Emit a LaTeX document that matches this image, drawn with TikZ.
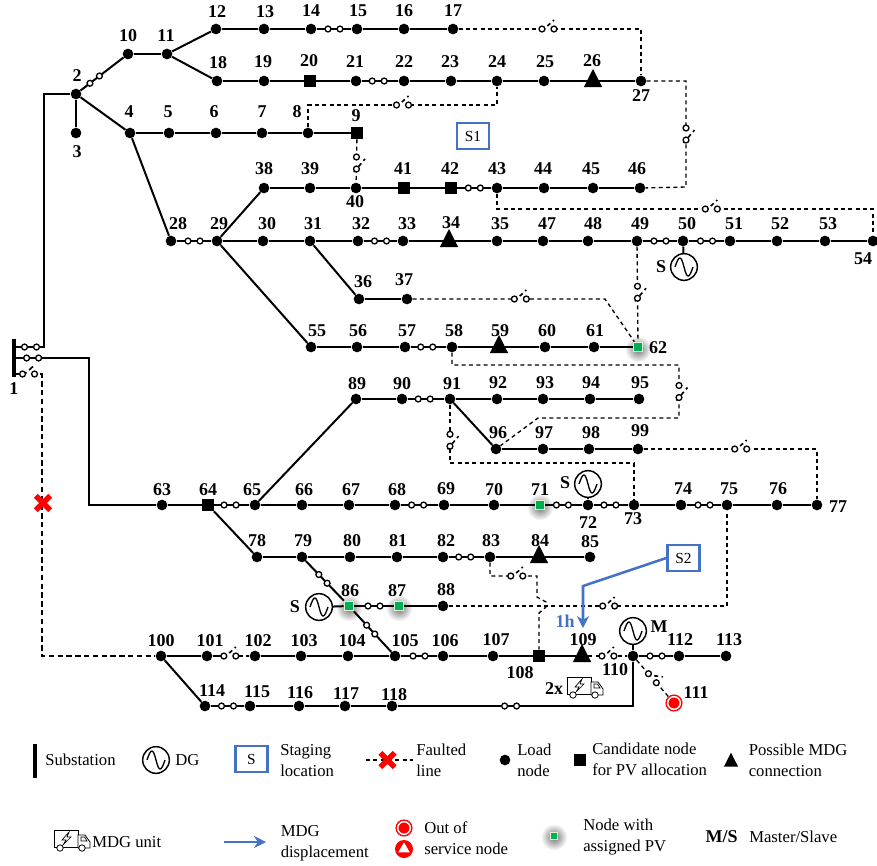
\documentclass[tikz,border=0pt]{standalone}
\usepackage{fontspec}
\setmainfont{Liberation Serif}
\usetikzlibrary{arrows.meta, calc, positioning, shapes.geometric, shapes.misc}
\definecolor{pvgreen}{HTML}{00B050}
\definecolor{pvrim}{HTML}{E2EFD9}
\definecolor{stageblue}{HTML}{4472C4}

\begin{document}
\begin{tikzpicture}[
        x=0.75pt, y=-0.75pt,
        bus/.style={circle, fill=black, minimum size=8pt, inner sep=0pt},
        cand/.style={rectangle, fill=black, minimum size=9pt, inner sep=0pt},
        mdg/.style={regular polygon, regular polygon sides=3, fill=black, minimum size=18pt,
                    inner sep=0pt, transform shape, xscale=0.88},
        pv/.style={rectangle, fill=pvgreen, draw=pvrim, line width=1pt, minimum size=7pt, inner sep=0pt},
        glow/.style={circle, inner color=black!55, outer color=white, minimum size=20pt, inner sep=0pt},
        outnode/.style={circle, fill=red, draw=red, double=white, double distance=1.1pt,
                        line width=1.1pt, minimum size=9.5pt, inner sep=0pt},
        num/.style={font=\bfseries\fontsize{13.5}{14}\selectfont, inner sep=0pt},
        txt/.style={font=\fontsize{12.5}{15.75}\selectfont, anchor=west, align=left, inner sep=0pt},
        stage/.style={rectangle, draw=stageblue, line width=1.8pt, fill=white, minimum width=24pt,
                      minimum height=19.5pt, inner sep=0pt, font=\fontsize{11.5}{14}\selectfont},
        gen/.style={circle, draw, line width=1.1pt, minimum size=20pt, inner sep=0pt,
                    path picture={\draw[line width=1pt, shift={(path picture bounding box.center)}]
                        (-9,0) .. controls (-5,-12) and (-3,-12) .. (0,0)
                        .. controls (3,12) and (5,12) .. (9,0);}},
        fault/.style={cross out, draw=red, line width=4.2pt, minimum size=6.5pt, inner sep=0pt},
        line/.style={line width=1.5pt},
        dashline/.style={line width=1pt, dash pattern=on 3pt off 2.5pt},
        faultline/.style={line width=1pt, dash pattern=on 4pt off 2.6pt},
        arrow/.style={-{Stealth[length=9pt, width=9pt]}, line width=1.9pt, stageblue},
        swline/.style={line width=1pt, solid, fill=white},
        closedsw/.pic={
            \draw[swline] (-6,0) circle (2.2pt);
            \draw[swline] (6,0) circle (2.2pt);},
        opensw/.pic={
            \fill[white] (-6,-1.5) rectangle (6,1.5);
            \draw[line width=1.2pt] (-6,2) -- (6,-9);
            \draw[swline] (-6,0) circle (2.2pt);
            \draw[swline] (6,0) circle (2.2pt);},
        vopensw/.pic={
            \fill[white] (-1.5,-6) rectangle (1.5,6);
            \draw[line width=1.2pt] (-2.5,9) -- (8.5,-4);
            \draw[swline] (0,-6) circle (2.2pt);
            \draw[swline] (0,6) circle (2.2pt);},
        truck/.pic={
            \draw[line width=0.6pt, fill=white] (0,0) rectangle (24,17);
            \draw[line width=0.6pt, fill=white] (24,5) -- (31,5) -- (36,12) -- (36,18) -- (24,18) -- cycle;
            \draw[line width=0.5pt] (27,7) -- (30.5,7) -- (33,11) -- (27,11) -- cycle;
            \draw[line width=0.5pt] (15,2) -- (8,10) -- (12,10) -- (9,15) -- (17,7) -- (13,7) -- cycle;
            \draw[line width=0.6pt, fill=white] (6,18) circle (2.4pt);
            \draw[line width=0.6pt, fill=white] (28,18) circle (2.4pt);},
    ]
    \useasboundingbox (0,0) rectangle (877,865);

    % ====== PV glow, under everything ======
    \foreach \n/\x/\y in {62/638/349, 71/540/507, 86/349/608, 87/399/608}
        \node[glow] (g\n) at (\x,\y) {};

    % ====== load nodes ======
    \foreach \n/\x/\y in {
        2/76/94, 3/76/133, 4/130/133, 5/169/133, 6/216/133, 7/262/133, 8/308/133,
        10/128/54, 11/167/54, 12/216/29, 13/264/29, 14/311/29, 15/357/29, 16/404/29, 17/453/29,
        18/217/81, 19/264/81, 21/356/81, 22/404/81, 23/451/81, 24/497/81, 25/544/81, 27/641/81,
        28/171/241, 29/217/241, 30/263/241, 31/310/241, 32/358/241, 33/403/241, 35/497/241,
        36/359/299, 37/407/299, 38/264/188, 39/310/188, 40/356/188, 43/497/188, 44/544/188,
        45/593/188, 46/640/188, 47/543/241, 48/588/241, 49/637/241, 50/683/241, 51/730/241,
        52/777/241, 53/825/241, 54/873/241, 55/311/347, 56/357/347, 57/405/347, 58/452/347,
        60/545/347, 61/594/347, 63/162/505, 65/255/505, 66/302/505, 67/349/505, 68/395/505,
        69/444/505, 70/494/505, 72/588/505, 73/634/505, 74/681/505, 75/727/505, 76/777/505,
        77/817/505, 78/257/557, 79/302/557, 80/350/557, 81/397/557, 82/443/557, 83/490/557,
        85/590/557, 88/443/606, 89/356/399, 90/402/399, 91/450/399, 92/497/399, 93/543/399,
        94/590/399, 95/639/399, 96/496/449, 97/543/449, 98/589/449, 99/638/449, 100/161/656,
        101/207/656, 102/255/656, 103/301/656, 104/348/656, 105/395/656, 106/443/656,
        107/493/656, 110/633/656, 112/679/656, 113/726/656, 114/205/706, 115/250/706,
        116/299/706, 117/345/706, 118/392/706}
        \node[bus] (n\n) at (\x,\y) {};

    % ====== candidate, MDG and PV nodes ======
    \foreach \n/\x/\y in {9/357/133, 20/310/81, 41/404/188, 42/451/188, 64/208/505, 108/539/656}
        \node[cand] (n\n) at (\x,\y) {};
    \foreach \n/\x/\y in {26/593/81, 34/449/241, 59/499/347, 84/539/557, 109/582/656}
        \node[mdg] (n\n) at (\x,\y) {};
    \foreach \n/\x/\y in {62/638/347, 71/540/505, 86/349/606, 87/399/606}
        \node[pv] (n\n) at (\x,\y) {};
    \node[outnode] (n111) at (674,703) {};

    % ====== node numbers ======
    \foreach \n/\x/\y in {
        2/77/76, 3/77/152, 4/129/112, 5/168/112, 6/214/112, 7/262/112, 8/297/112, 9/356/116,
        10/128/36, 11/166/36, 12/217/12, 13/265/12, 14/311/11, 15/358/11, 16/404/11, 17/453/11,
        18/218/63, 19/263/62, 20/309/61, 21/355/62, 22/404/62, 23/450/62, 24/497/62, 25/545/62,
        26/592/61, 27/641/96, 28/178/224, 29/219/224, 30/267/224, 31/313/224, 32/361/224,
        33/407/224, 34/451/223, 35/500/224, 36/363/282, 37/404/280, 38/264/169, 39/310/169,
        40/355/202, 41/403/169, 42/450/169, 43/497/169, 44/543/169, 45/591/169, 46/637/169,
        47/547/224, 48/593/224, 49/640/224, 50/687/224, 51/734/224, 52/780/224, 53/828/224,
        54/863/259, 55/317/331, 56/358/331, 57/407/331, 58/454/331, 59/500/331, 60/547/331,
        61/595/331, 62/658/348, 63/162/490, 64/208/490, 65/252/490, 66/304/490, 67/351/490,
        68/397/490, 69/446/489, 70/494/490, 71/540/490, 72/588/523, 73/633/519, 74/683/489,
        75/729/489, 76/778/489, 77/838/507, 78/257/541, 79/303/541, 80/352/541, 81/398/541,
        82/446/541, 83/491/541, 84/540/541, 85/590/542, 86/350/591, 87/397/591, 88/446/590,
        89/357/384, 90/402/384, 91/452/384, 92/498/383, 93/545/383, 94/591/383, 95/640/383,
        96/498/433, 97/544/433, 98/591/433, 99/640/431, 100/161/641, 101/210/641, 102/258/641,
        103/304/641, 104/352/641, 105/405/641, 106/445/641, 107/496/640, 108/520/673,
        109/583/640, 110/615/670, 111/696/693, 112/680/640, 113/729/640, 114/212/691,
        115/257/692, 116/300/693, 117/346/694, 118/394/695}
        \node[num] (l\n) at (\x,\y) {\n};

    % ====== substation, generators ======
    \node[rectangle, fill=black, minimum width=3pt, minimum height=28pt, inner sep=0pt] (sub) at (14,358) {};
    \node[num] (l1) at (14,389) {1};
    \coordinate (b1) at (14,347);
    \coordinate (b2) at (14,358);
    \coordinate (b3) at (14,374);
    \node[gen] (gen50) at (684,267) {};
    \node[num] (s50) at (661,267) {S};
    \node[gen] (gen72) at (588,484) {};
    \node[num] (s72) at (565,483) {S};
    \node[gen] (gen86) at (319,607) {};
    \node[num] (s86) at (295,607) {S};
    \node[gen] (gen110) at (633,631) {};
    \node[num] (m110) at (659,627) {M};
    \draw[line] (gen50) -- (n50);
    \draw[line] (gen72) -- (n72);
    \draw[line] (gen86) -- (n86);
    \draw[line] (gen110) -- (n110);

    % ====== solid lines ======
    \foreach \a/\b in {
        2/3, 2/4, 10/11, 11/12, 11/18, 12/13, 13/14, 15/16, 16/17, 18/19, 19/20, 20/21, 22/23,
        23/24, 24/25, 25/26, 26/27, 4/5, 5/6, 6/7, 7/8, 8/9, 4/28, 29/38, 29/30, 29/55, 38/39,
        39/40, 40/41, 41/42, 43/44, 44/45, 45/46, 30/31, 31/32, 33/34, 34/35, 35/47, 47/48,
        48/49, 51/52, 52/53, 53/54, 31/36, 36/37, 55/56, 56/57, 58/59, 59/60, 60/61, 61/62,
        89/90, 91/92, 92/93, 93/94, 94/95, 91/96, 96/97, 97/98, 98/99, 63/64, 65/66, 66/67,
        67/68, 69/70, 70/71, 73/74, 75/76, 76/77, 65/89, 64/78, 78/79, 79/80, 80/81, 81/82,
        83/84, 84/85, 87/88, 100/101, 102/103, 103/104, 104/105, 106/107, 107/108, 108/109,
        112/113, 100/114, 115/116, 116/117, 117/118}
        \draw[line] (n\a) -- (n\b);

    % ====== lines with closed switches ======
    \foreach \a/\b/\p in {
        2/10/.33, 14/15/.5, 21/22/.45, 28/29/.5, 32/33/.5, 42/43/.5, 49/50/.5, 50/51/.5, 57/58/.45,
        90/91/.45, 64/65/.45, 68/69/.45, 71/72/.46, 72/73/.47, 74/75/.5, 82/83/.45, 86/87/.5,
        105/106/.5, 114/115/.5, 110/112/.5, 79/86/.45, 86/105/.45}
        \draw[line] (n\a) -- pic[pos=\p, sloped]{closedsw} (n\b);

    % ====== feeders from the substation ======
    \coordinate (t1) at (44,347);
    \coordinate (t2) at (88.5,358);
    \coordinate (t3) at (42,374);
    \coordinate (t100) at (42,656);
    \draw[line] (b1) -- pic[pos=.55]{closedsw} (t1) |- (n2);
    \draw[line] (b2) -- pic[pos=.25]{closedsw} (t2) |- (n63);
    \draw[faultline] (b3) -- pic[pos=.52]{opensw} (t3) -- (t100) -- (n100);
    \coordinate (t118) at (633,706);
    \draw[line] (n118) -- pic[pos=.48]{closedsw} (t118) -- (n110);

    % ====== normally open ties ======
    \coordinate (c27) at (686,81);
    \coordinate (c46) at (686,187);
    \coordinate (c8) at (308,105);
    \coordinate (c24) at (497,105);
    \coordinate (c43) at (497,209);
    \coordinate (c54) at (873,209);
    \coordinate (c37) at (605,299);
    \coordinate (c58a) at (452,365);
    \coordinate (c58b) at (679,365);
    \coordinate (c96a) at (538,418);
    \coordinate (c96b) at (679,418);
    \coordinate (c91) at (450,463);
    \coordinate (c73) at (634,463);
    \coordinate (c83a) at (490,576);
    \coordinate (c83b) at (537,576);
    \coordinate (c83c) at (537,597);
    \coordinate (c83d) at (546,602);
    \coordinate (c83e) at (546,607);
    \coordinate (c83f) at (539,613);
    \coordinate (c88) at (727,606);
    \coordinate (c101) at (224,656);
    \draw[dashline] (n17) -| pic[pos=.245]{opensw} (n27);
    \draw[dashline] (n27) -- (c27) -- pic{vopensw} (c46) -- (n46);
    \draw[dashline] (n8) -- (c8) -- pic{opensw} (c24) -- (n24);
    \draw[dashline] (n9) -- pic[pos=.55]{vopensw} (n40);
    \draw[dashline] (n43) -- (c43) -- pic[pos=.57]{opensw} (c54) -- (n54);
    \draw[dashline] (n49) -- pic[pos=.48]{vopensw} (n62);
    \draw[dashline] (n37) -- pic[pos=.56]{opensw} (c37) -- (n62);
    \draw[dashline] (n58) -- (c58a) -- (c58b) -- pic{vopensw} (c96b) -- (c96a) -- (n96);
    \draw[dashline] (n91) -- pic[pos=.61]{vopensw} (c91) -- (c73) -- (n73);
    \draw[dashline] (n99) -| pic[pos=.28]{opensw} (n77);
    \draw[dashline] (n83) -- (c83a) -- pic[pos=.57]{opensw} (c83b) -- (c83c) -- (c83d) -- (c83e) -- (c83f) -- (n108);
    \draw[dashline] (n88) -- pic[pos=.575]{opensw} (c88) -- (n75);
    \draw[line] (n101) -- (c101);
    \draw[dashline] (c101) -- pic[pos=.23]{opensw} (n102);
    \draw[dashline] (n109) -- pic{opensw} (n110);
    \draw[dashline] (n110) -- pic[pos=.48, sloped]{opensw} (n111);

    % ====== fault, staging, MDG ======
    \node[fault] (x1) at (43,503) {};
    \node[stage] (s1) at (473,136) {S1};
    \node[stage] (s2) at (683.5,558) {S2};
    \coordinate (a1) at (583,586);
    \coordinate (a2) at (583,628);
    \node[font=\bfseries\fontsize{13.5}{14}\selectfont, text=stageblue, inner sep=0pt] (h1) at (565,621) {1h};
    \draw[arrow] (s2.west) -- (a1) -- (a2);
    \node[num] (mult) at (554,689) {2x};
    \pic at (567,677) {truck};

    % ====== legend ======
    \node[rectangle, fill=black, minimum width=3pt, minimum height=25pt, inner sep=0pt] (k1) at (35,761) {};
    \node[txt] (kt1) at (45,760) {Substation};
    \node[gen] (k2) at (156,760) {};
    \node[txt] (kt2) at (175,760) {DG};
    \node[stage] (k3) at (251.5,759) {S};
    \node[txt] (kt3) at (280,760.5) {Staging\\location};
    \coordinate (k4a) at (366,760);
    \coordinate (k4b) at (413,760);
    \draw[dashline] (k4a) -- (k4b);
    \node[fault] (k4) at (387.5,760) {};
    \node[txt] (kt4) at (416,760.5) {Faulted\\line};
    \node[bus] (k5) at (505,760) {};
    \node[txt] (kt5) at (517,760.5) {Load\\node};
    \node[cand] (k6) at (579.5,760) {};
    \node[txt] (kt6) at (592,759.5) {Candidate node\\for PV allocation};
    \node[mdg, minimum size=14pt] (k7) at (731,762) {};
    \node[txt] (kt7) at (748.5,760.5) {Possible MDG\\connection};
    \pic at (54,830) {truck};
    \node[txt] (kt8) at (92,842) {MDG unit};
    \coordinate (k9a) at (224,842);
    \coordinate (k9b) at (266,842);
    \draw[arrow] (k9a) -- (k9b);
    \node[txt] (kt9) at (280.5,843.5) {MDG\\displacement};
    \node[outnode] (k10) at (404,828) {};
    \node[circle, fill=red, minimum size=13.5pt, inner sep=0pt] (k11) at (404,849) {};
    \node[regular polygon, regular polygon sides=3, fill=white, minimum size=10pt, inner sep=0pt] (k11t) at (404,849) {};
    \node[txt] (kt10) at (424,838) {Out of\\service node};
    \node[glow] (k12g) at (554,837) {};
    \node[pv, minimum size=5.5pt] (k12) at (554,836) {};
    \node[txt] (kt12) at (583,836.5) {Node with\\assigned PV};
    \node[num] (k13) at (721.5,837) {M/S};
    \node[txt] (kt13) at (749,837) {Master/Slave};
\end{tikzpicture}
\end{document}
